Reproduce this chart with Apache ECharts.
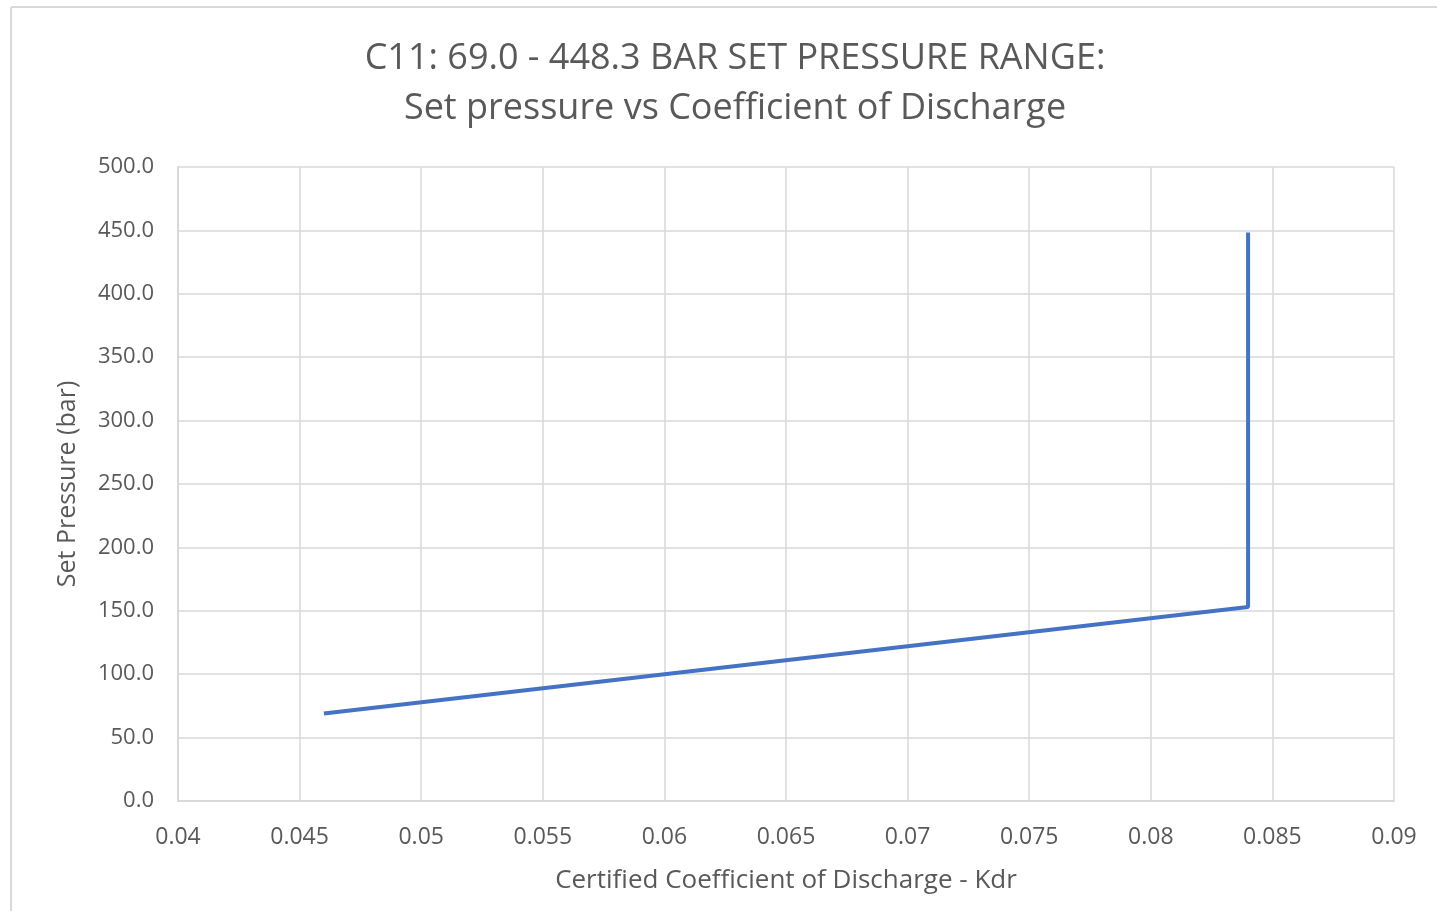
<!DOCTYPE html>
<html>
<head>
<meta charset="utf-8">
<title>C11 Set pressure vs Coefficient of Discharge</title>
<script src="https://cdn.jsdelivr.net/npm/echarts@6/dist/echarts.min.js"></script>
<style>
  html, body { margin: 0; padding: 0; background: #fff; }
  #main { width: 1437px; height: 911px; }
</style>
</head>
<body>
<div id="main"></div>
<script>
// data
var kdr = [0.046, 0.084, 0.084];
var setPressure = [69.0, 153.0, 448.3];
var titleLines = ['C11: 69.0 - 448.3 BAR SET PRESSURE RANGE:', 'Set pressure vs Coefficient of Discharge'];

(function(){
	var chart = echarts.init(document.getElementById('main'));

	var points = [];
	for (var i = 0; i < kdr.length; i++) {
		points.push([kdr[i], setPressure[i]]);
	}

	var option = {
    animation: false,
    title: {
        text: titleLines.join('\n'),
        left: 730,
        textAlign: 'center',
        top: 29,
        textStyle: {
            fontFamily: 'Open Sans, sans-serif',
            fontSize: 36,
            fontWeight: 'normal',
            color: '#595959',
            lineHeight: 50
        }
    },
    grid: {
        left: 178,
        right: 43,
        top: 167,
        bottom: 110
    },
    xAxis: {
        type: 'value',
        min: 0.04,
        max: 0.09,
        interval: 0.005,
        name: 'Certified Coefficient of Discharge - Kdr',
        nameLocation: 'middle',
        nameGap: 67,
        nameTextStyle: {
            fontFamily: 'Open Sans, sans-serif',
            fontSize: 26,
            color: '#595959'
        },
        axisLine: { show: true, lineStyle: { color: '#d9d9d9', width: 2 } },
        axisTick: { show: false },
        splitLine: { show: true, lineStyle: { color: '#d9d9d9', width: 1.5 } },
        axisLabel: {
            margin: 25,
            fontFamily: 'Open Sans, sans-serif',
            fontSize: 23,
            color: '#595959',
            formatter: function (v) { return String(+v.toFixed(3)); }
        }
    },
    yAxis: {
        type: 'value',
        min: 0,
        max: 500,
        interval: 50,
        name: 'Set Pressure (bar)',
        nameLocation: 'middle',
        nameGap: 98,
        nameTextStyle: {
            fontFamily: 'Open Sans, sans-serif',
            fontSize: 25,
            color: '#595959'
        },
        axisLine: { show: true, lineStyle: { color: '#d9d9d9', width: 2 } },
        axisTick: { show: false },
        splitLine: { show: true, lineStyle: { color: '#d9d9d9', width: 1.5 } },
        axisLabel: {
            margin: 24,
            fontFamily: 'Open Sans, sans-serif',
            fontSize: 22,
            color: '#595959',
            formatter: function (v) { return v.toFixed(1); }
        }
    },
    graphic: [
        { type: 'line', shape: { x1: 11, y1: 7, x2: 1437, y2: 7 }, style: { stroke: '#d9d9d9', lineWidth: 2 } },
        { type: 'line', shape: { x1: 11, y1: 7, x2: 11, y2: 911 }, style: { stroke: '#d9d9d9', lineWidth: 2 } }
    ],
    series: [
        {
            name: 'C11',
            type: 'line',
            data: points,
            showSymbol: false,
            lineStyle: { color: '#4472c4', width: 4 }
        }
    ]
};

	chart.setOption(option);
})();
</script>
</body>
</html>
